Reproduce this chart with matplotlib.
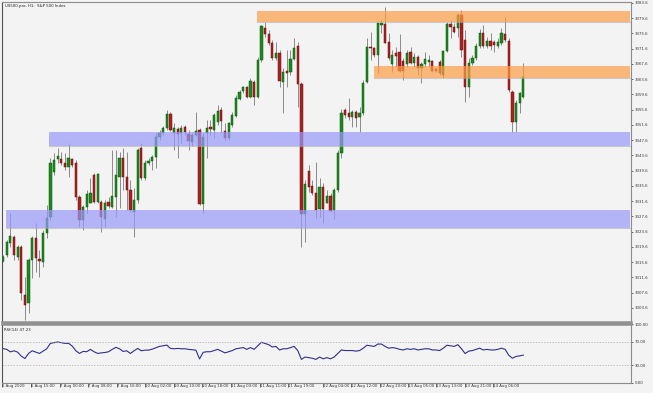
import numpy as np
import matplotlib
matplotlib.use("Agg")
import matplotlib.pyplot as plt
from matplotlib.patches import Rectangle

# ---- data (H1 candles, US500) ----
opens = [3315.9, 3317.5, 3320.6, 3322.2, 3316.9, 3319.6, 3307.0, 3304.9, 3316.2, 3321.9,
         3316.4, 3315.6, 3323.2, 3327.4, 3339.2, 3342.6, 3342.6, 3341.6, 3340.5, 3342.6,
         3341.6, 3332.7, 3326.6, 3330.1, 3331.1, 3338.4, 3331.4, 3331.4, 3326.9, 3331.4,
         3330.1, 3332.7, 3337.9, 3342.9, 3337.9, 3334.5, 3328.7, 3331.9, 3345.5, 3337.6,
         3341.6, 3342.1, 3343.2, 3348.4, 3349.4, 3350.8, 3354.4, 3349.4, 3350.5, 3349.4,
         3351.0, 3349.2, 3347.1, 3348.9, 3350.2, 3330.8, 3349.4, 3351.0, 3350.2, 3352.3,
         3355.5, 3350.0, 3348.1, 3351.5, 3353.9, 3358.4, 3360.5, 3361.5, 3358.9, 3362.8,
         3358.9, 3368.6, 3377.0, 3375.4, 3373.0, 3369.1, 3370.4, 3362.8, 3365.7, 3365.4,
         3368.8, 3372.2, 3362.3, 3328.2, 3339.5, 3335.5, 3333.7, 3329.5, 3335.3, 3331.1,
         3332.9, 3329.3, 3334.5, 3344.2, 3355.5, 3354.7, 3353.6, 3354.9, 3353.6, 3354.7,
         3362.8, 3372.0, 3371.7, 3369.9, 3377.8, 3378.0, 3373.3, 3367.5, 3370.4, 3370.7,
         3368.3, 3367.5, 3370.7, 3367.8, 3369.4, 3366.5, 3367.5, 3368.1, 3368.3, 3366.2,
         3368.1, 3364.6, 3370.9, 3378.0, 3377.2, 3377.0, 3380.4, 3373.8, 3361.5, 3367.8,
         3369.1, 3372.2, 3375.7, 3372.2, 3373.6, 3373.3, 3372.2, 3373.0, 3375.4, 3373.6,
         3360.2, 3352.3, 3357.3, 3358.9]
highs = [3317.5, 3321.4, 3328.5, 3322.7, 3320.1, 3320.1, 3311.7, 3316.7, 3322.4, 3325.9,
         3318.8, 3324.0, 3330.6, 3342.9, 3344.2, 3345.5, 3344.5, 3344.2, 3346.8, 3342.9,
         3342.4, 3333.2, 3330.6, 3334.5, 3337.6, 3339.0, 3339.0, 3331.9, 3331.9, 3332.7,
         3345.0, 3345.0, 3344.5, 3345.5, 3344.5, 3337.1, 3335.0, 3345.5, 3346.8, 3342.4,
         3342.9, 3343.7, 3349.4, 3350.2, 3351.3, 3355.5, 3354.9, 3352.1, 3351.0, 3351.5,
         3351.5, 3350.2, 3349.4, 3354.9, 3350.8, 3349.4, 3352.9, 3352.9, 3354.7, 3356.8,
         3356.3, 3352.1, 3352.3, 3354.9, 3359.4, 3360.7, 3361.8, 3361.8, 3363.9, 3363.3,
         3369.4, 3377.8, 3378.5, 3376.4, 3373.8, 3373.3, 3371.2, 3366.5, 3371.2, 3371.2,
         3374.3, 3373.3, 3362.8, 3337.1, 3341.1, 3337.1, 3341.8, 3337.6, 3336.3, 3334.5,
         3333.7, 3335.0, 3345.0, 3355.7, 3356.0, 3358.6, 3355.5, 3355.5, 3356.3, 3363.3,
         3374.3, 3375.9, 3372.0, 3378.5, 3379.1, 3382.5, 3375.7, 3371.2, 3372.0, 3375.4,
         3369.1, 3371.2, 3372.0, 3370.4, 3369.9, 3368.1, 3370.7, 3369.9, 3368.6, 3366.5,
         3368.6, 3371.2, 3378.5, 3379.1, 3378.3, 3380.9, 3381.7, 3376.4, 3369.1, 3369.9,
         3373.0, 3376.7, 3377.8, 3374.6, 3375.7, 3373.8, 3374.3, 3377.0, 3379.8, 3374.3,
         3360.7, 3358.1, 3360.2, 3367.8]
lows = [3315.6, 3316.9, 3319.6, 3316.2, 3316.2, 3305.7, 3300.4, 3302.3, 3311.4, 3313.0,
        3311.7, 3314.3, 3321.9, 3326.6, 3338.4, 3341.6, 3341.1, 3339.7, 3337.9, 3340.5,
        3331.9, 3324.8, 3324.0, 3328.5, 3331.1, 3331.1, 3331.1, 3323.5, 3324.8, 3329.8,
        3329.8, 3327.4, 3329.8, 3334.5, 3329.3, 3328.7, 3322.2, 3331.1, 3337.1, 3337.1,
        3341.1, 3339.7, 3340.3, 3347.6, 3348.9, 3350.2, 3350.0, 3345.0, 3342.9, 3346.8,
        3348.9, 3345.0, 3346.0, 3348.7, 3330.6, 3328.5, 3342.9, 3348.9, 3348.1, 3351.5,
        3349.4, 3347.6, 3347.6, 3351.0, 3353.6, 3358.1, 3359.9, 3358.6, 3358.6, 3356.8,
        3358.6, 3368.1, 3374.6, 3372.5, 3368.6, 3368.6, 3361.5, 3354.7, 3361.5, 3364.6,
        3368.6, 3356.3, 3319.6, 3320.9, 3334.0, 3333.2, 3327.2, 3327.4, 3325.9, 3331.1,
        3328.7, 3326.9, 3334.0, 3342.9, 3353.4, 3352.9, 3351.0, 3351.0, 3349.7, 3354.2,
        3362.5, 3368.6, 3369.4, 3365.2, 3375.7, 3373.0, 3368.6, 3365.4, 3366.7, 3365.4,
        3363.3, 3366.7, 3367.5, 3366.7, 3364.6, 3362.5, 3366.7, 3366.7, 3365.4, 3365.4,
        3364.6, 3363.9, 3370.7, 3374.3, 3375.7, 3374.6, 3369.4, 3357.6, 3358.9, 3367.3,
        3368.6, 3371.7, 3371.7, 3371.7, 3371.2, 3370.7, 3371.7, 3372.5, 3373.3, 3360.2,
        3349.7, 3349.7, 3354.7, 3358.6]
closes = [3316.9, 3320.9, 3322.4, 3317.5, 3319.6, 3307.5, 3304.4, 3316.2, 3321.9, 3316.7,
          3315.9, 3323.2, 3327.2, 3341.6, 3342.4, 3343.4, 3341.6, 3340.5, 3342.9, 3341.1,
          3332.7, 3326.6, 3330.1, 3333.5, 3333.7, 3331.4, 3338.7, 3327.4, 3331.1, 3330.3,
          3332.9, 3338.4, 3342.9, 3337.9, 3334.5, 3329.3, 3331.9, 3345.0, 3337.6, 3341.6,
          3342.1, 3343.2, 3348.4, 3349.4, 3350.8, 3354.4, 3350.2, 3350.8, 3349.2, 3350.8,
          3349.7, 3347.3, 3348.9, 3350.0, 3330.8, 3348.4, 3350.8, 3350.5, 3354.2, 3355.2,
          3352.6, 3348.1, 3352.1, 3354.2, 3358.6, 3360.2, 3361.5, 3358.9, 3363.1, 3358.9,
          3368.6, 3377.5, 3375.4, 3373.0, 3369.1, 3370.4, 3363.1, 3365.4, 3365.2, 3368.8,
          3371.7, 3362.3, 3328.2, 3336.1, 3335.3, 3333.7, 3329.3, 3335.3, 3329.5, 3332.9,
          3329.0, 3334.5, 3344.2, 3354.7, 3354.2, 3353.6, 3354.9, 3353.4, 3354.7, 3362.5,
          3372.0, 3371.7, 3369.9, 3378.3, 3378.3, 3373.0, 3369.1, 3369.9, 3369.6, 3365.7,
          3365.7, 3370.4, 3367.8, 3369.4, 3366.5, 3367.5, 3368.8, 3368.6, 3365.7, 3365.7,
          3365.2, 3370.9, 3378.0, 3377.2, 3375.9, 3380.4, 3371.2, 3361.5, 3367.8, 3369.1,
          3372.2, 3375.7, 3372.2, 3373.6, 3372.2, 3372.5, 3373.3, 3375.7, 3373.8, 3360.7,
          3352.3, 3357.3, 3359.9, 3364.1]

rsi = [58.3, 57.0, 52.8, 54.6, 52.3, 45.5, 41.5, 50.1, 54.6, 52.3,
       50.1, 54.0, 58.0, 67.2, 68.3, 69.5, 68.3, 67.2, 67.2, 62.6,
       54.6, 50.1, 53.5, 53.0, 57.0, 53.0, 50.1, 51.1, 51.7, 53.0,
       57.0, 60.4, 58.0, 53.5, 54.6, 50.1, 54.6, 58.6, 54.6, 55.7,
       55.7, 57.4, 59.7, 62.1, 63.1, 64.3, 58.6, 58.0, 58.6, 58.0,
       58.0, 57.0, 56.3, 55.7, 40.8, 52.0, 53.0, 53.0, 55.0, 57.0,
       54.0, 51.0, 53.0, 55.0, 58.0, 59.0, 60.0, 57.0, 60.0, 57.0,
       63.0, 69.0, 67.0, 65.0, 61.0, 62.0, 56.0, 58.0, 58.0, 60.0,
       62.0, 55.0, 40.0, 44.0, 43.0, 42.0, 40.0, 44.0, 41.0, 43.0,
       41.0, 44.0, 50.0, 56.0, 55.0, 55.0, 55.0, 54.0, 55.0, 59.0,
       64.0, 63.0, 62.0, 66.0, 66.0, 62.0, 59.0, 60.0, 59.0, 57.0,
       56.0, 58.0, 57.0, 58.0, 56.0, 57.0, 58.0, 58.0, 56.0, 56.0,
       55.0, 59.0, 64.0, 63.0, 62.0, 65.0, 58.0, 50.0, 54.0, 55.0,
       57.0, 59.0, 56.0, 57.0, 56.0, 56.0, 57.0, 59.0, 57.0, 47.0,
       42.0, 45.0, 46.0, 47.23]

# supply / demand zones: (start bar, low price, high price)
orange_zones = [(69.8, 3378.5, 3381.4), (102.0, 3364.0, 3367.0)]
blue_zones = [(12.5, 3346.0, 3349.8), (0.9, 3324.5, 3329.3)]

time_labels = ["6 Aug 2020", "6 Aug 15:00", "7 Aug 00:00", "7 Aug 08:00", "7 Aug 16:00",
               "10 Aug 02:00", "10 Aug 10:00", "10 Aug 18:00", "11 Aug 03:00", "11 Aug 11:00",
               "11 Aug 19:00", "12 Aug 04:00", "12 Aug 12:00", "12 Aug 20:00", "13 Aug 05:00",
               "13 Aug 13:00", "13 Aug 21:00", "14 Aug 06:00"]
label_bars = [-0.3, 7.8, 15.6, 23.4, 31.2, 39.0, 46.9, 54.7, 62.6, 70.5,
              78.2, 87.9, 95.7, 103.5, 111.3, 119.1, 127.0, 134.7]
price_ticks = [3303.6 + 4 * k for k in range(21)]

# ---- figure ----
bg = "#f3f3f3"
frame = "#8c8c8c"
fig = plt.figure(figsize=(6.53, 3.93), dpi=100, facecolor=bg)
W, H = 653.0, 393.0
ax = fig.add_axes([2 / W, 1 - 322 / H, 629 / W, 320 / H], facecolor=bg)
ax2 = fig.add_axes([2 / W, 1 - 383 / H, 629 / W, 59 / H], facecolor=bg, sharex=ax)

xs = np.arange(len(opens))
o = np.array(opens); c = np.array(closes)
up = c >= o
ax.vlines(xs, lows, highs, color="#8a8a8a", lw=0.7, zorder=2)
body = np.where(np.abs(c - o) < 0.25, 0.25, c - o)
ax.bar(xs, body, bottom=o, width=0.62,
       color=np.where(up, "#1c8a1c", "#ad2020"),
       edgecolor=np.where(up, "#0c560c", "#6a1010"), linewidth=0.35, zorder=3)

x_right = 172.6
for x0, lo, hi in orange_zones:
    ax.add_patch(Rectangle((x0, lo), x_right - x0 - 0.3, hi - lo, facecolor="#ff9d46",
                           alpha=0.7, edgecolor="none", zorder=4))
    ax.plot([x0, x_right - 0.3], [lo, lo], color="#b0b0b0", lw=0.8, alpha=0.6, zorder=4)
for x0, lo, hi in blue_zones:
    ax.add_patch(Rectangle((x0, lo), x_right - x0 - 0.3, hi - lo, facecolor="#9999fa",
                           alpha=0.7, edgecolor="none", zorder=4))
    ax.plot([x0, x_right - 0.3], [lo, lo], color="#b0b0b0", lw=0.8, alpha=0.6, zorder=4)

ax.set_xlim(-0.2, x_right)
ax.set_ylim(3299.9, 3383.8)
ax.yaxis.tick_right()
ax.set_yticks(price_ticks)
ax.set_yticklabels([f"{p:.1f}" for p in price_ticks])
ax.tick_params(axis="y", labelsize=2.8, length=1.5, width=0.5, pad=1, colors="#333333")
ax.tick_params(axis="x", bottom=False, labelbottom=False)
for s in ["top", "left", "right"]:
    ax.spines[s].set_color(frame)
    ax.spines[s].set_linewidth(0.8)
ax.spines["left"].set_color("#505050")
ax.spines["bottom"].set_color("#8f8f8f")
ax.spines["bottom"].set_linewidth(1.8)
ax.text(0.004, 0.995, "US500.pro, H1:  S&P 500 Index", transform=ax.transAxes,
        fontsize=2.8, va="top", ha="left", color="#222222")

# ---- RSI panel ----
ax2.plot(xs, rsi, color="#2f2f8c", lw=0.8)
for lvl in (70, 30):
    ax2.axhline(lvl, color="#a8a8a8", lw=0.5, ls=(0, (2, 2)))
ax2.set_ylim(0, 100)
ax2.yaxis.tick_right()
ax2.set_yticks([100, 70, 30, 0])
ax2.set_yticklabels(["100.00", "70.00", "30.00", "0.00"])
ax2.tick_params(axis="y", labelsize=2.8, length=1.5, width=0.5, pad=1, colors="#333333")
ax2.set_xticks(label_bars)
ax2.set_xticklabels(time_labels)
ax2.tick_params(axis="x", labelsize=2.8, length=3, width=0.5, pad=-2, colors="#333333")
for lab in ax2.get_xticklabels():
    lab.set_ha("left")
for s in ["left", "right", "bottom"]:
    ax2.spines[s].set_color(frame)
    ax2.spines[s].set_linewidth(0.8)
ax2.spines["left"].set_color("#505050")
ax2.spines["top"].set_color("#8f8f8f")
ax2.spines["top"].set_linewidth(1.8)
ax2.text(0.003, 0.93, "RSI(14) 47.23", transform=ax2.transAxes, fontsize=2.8,
         va="top", ha="left", color="#222222")

fig.savefig("out.png", dpi=100, facecolor=bg)
